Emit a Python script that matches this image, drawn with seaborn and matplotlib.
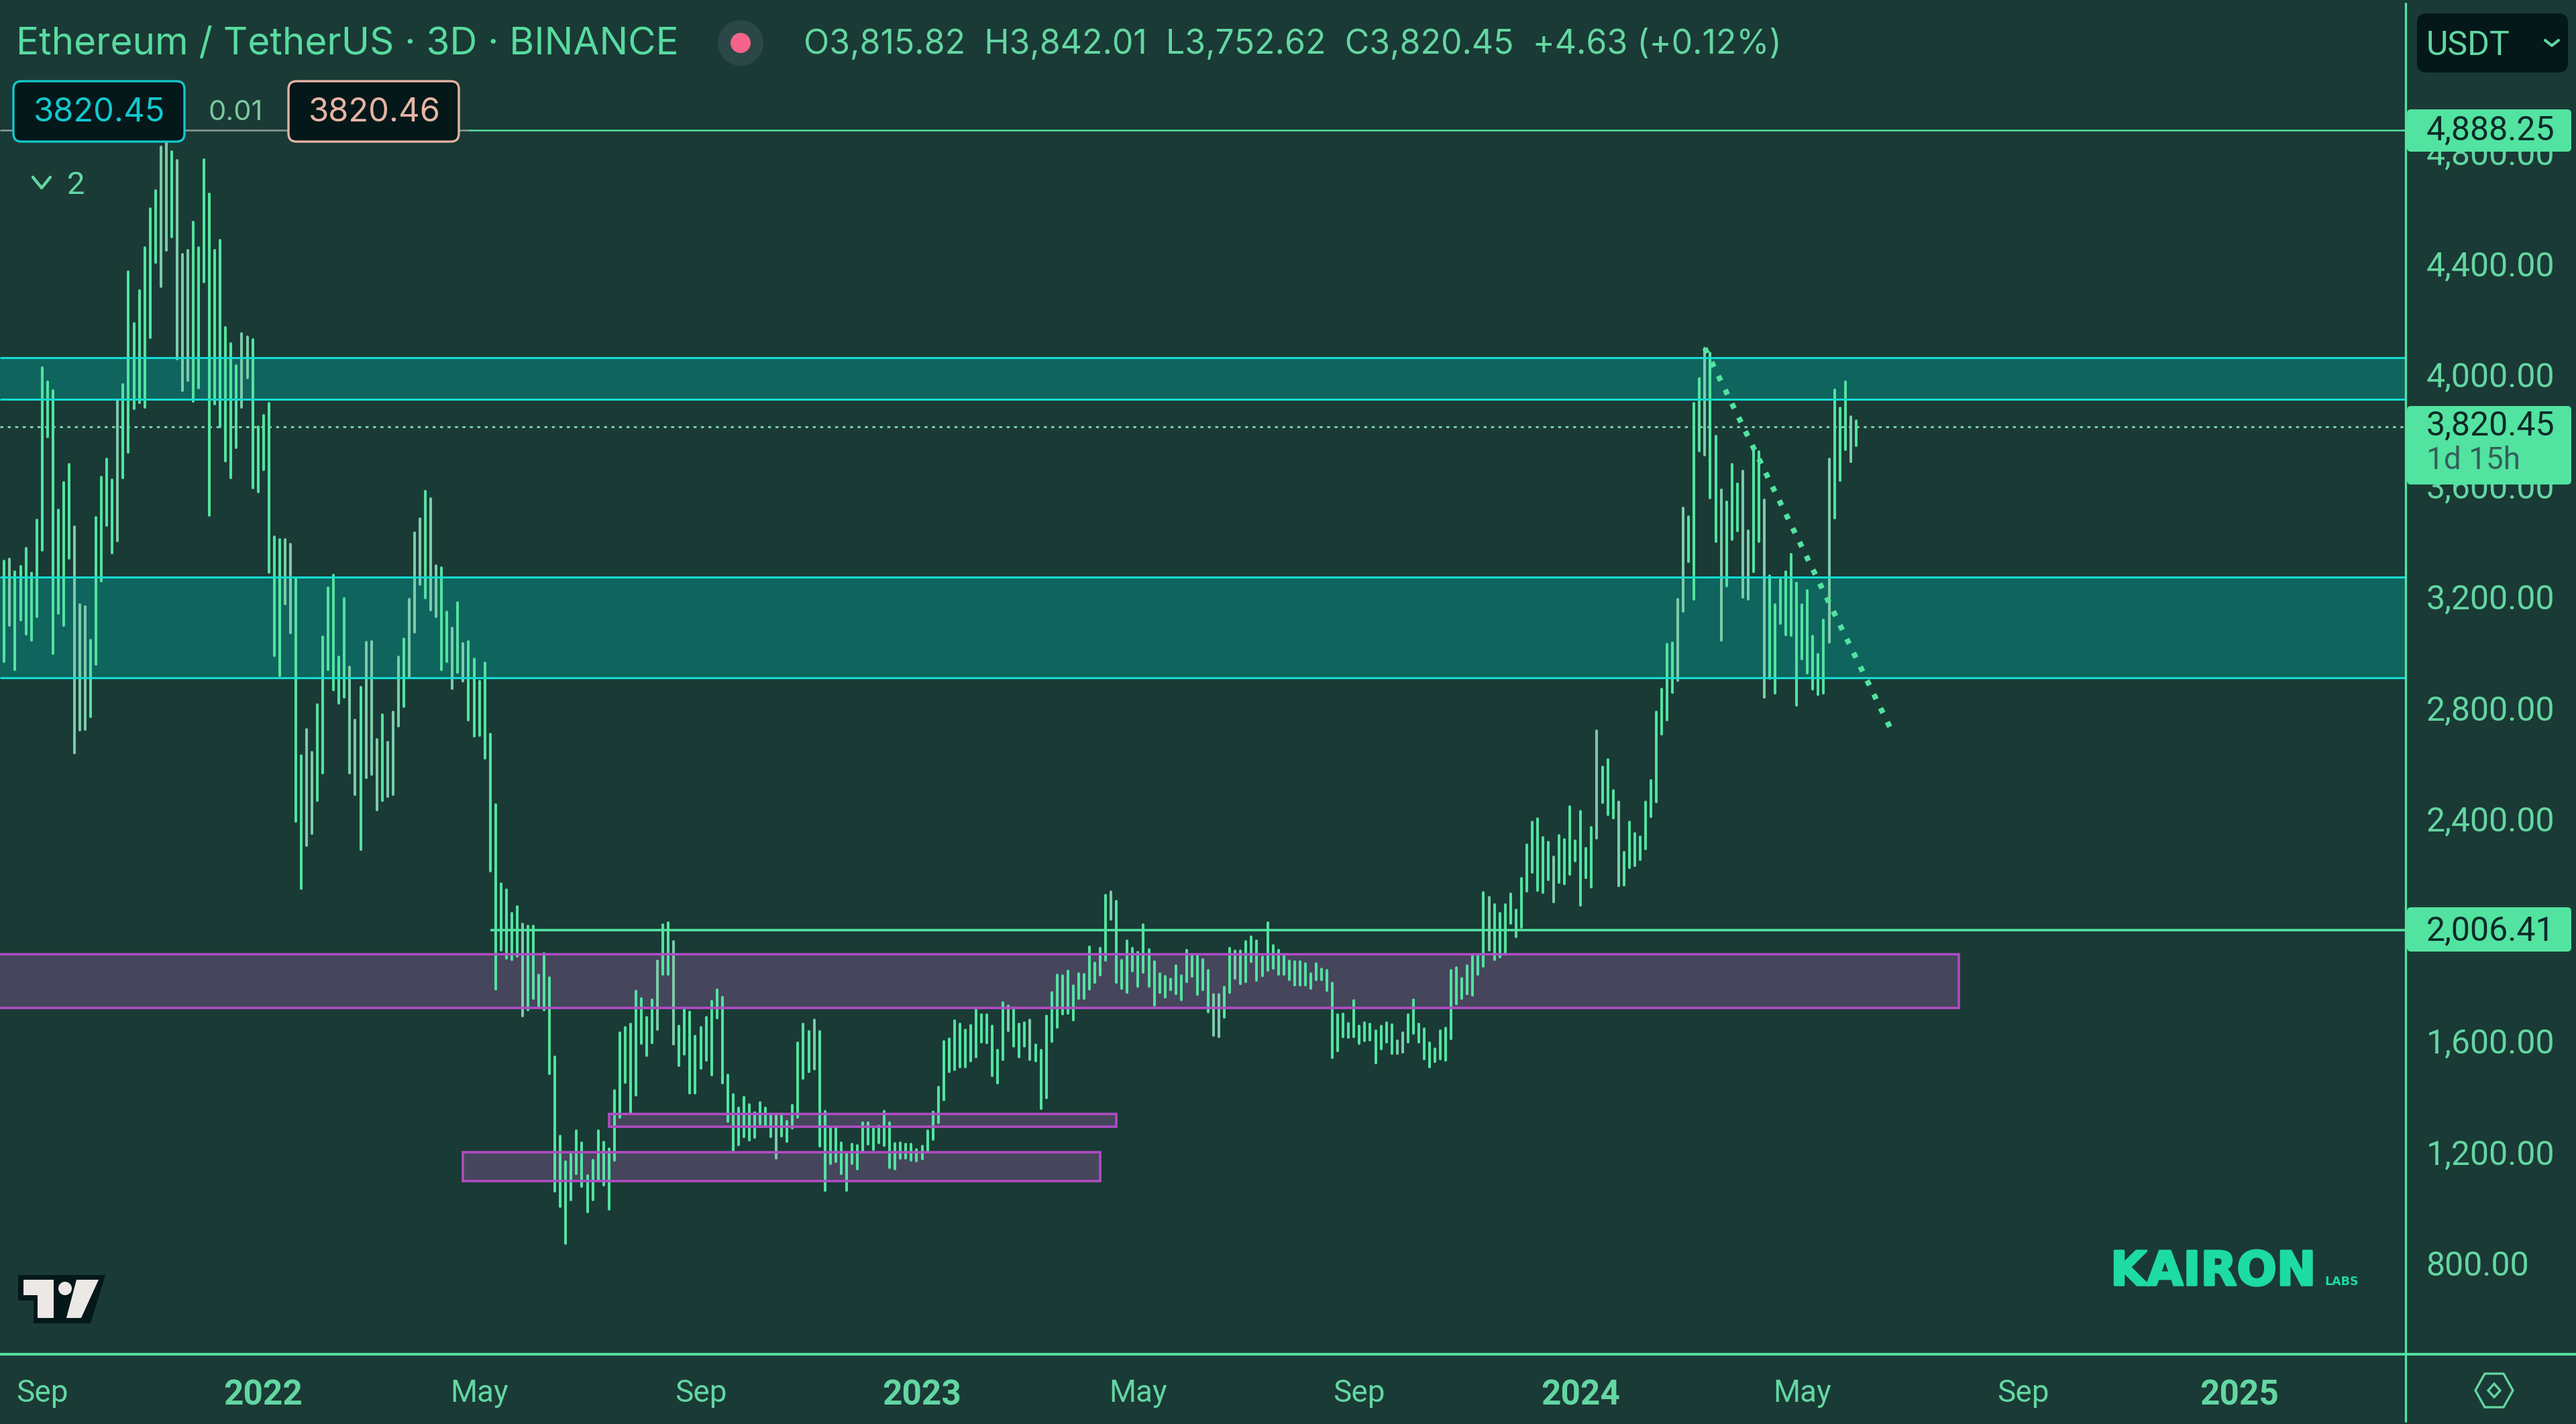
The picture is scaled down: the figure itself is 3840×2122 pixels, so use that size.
import pandas as pd
import matplotlib
matplotlib.use("Agg")
import matplotlib.pyplot as plt
import seaborn as sns
from matplotlib.patches import Rectangle, FancyBboxPatch, Polygon, Circle
from matplotlib.transforms import ScaledTranslation
import matplotlib.patheffects as pe

# 3D ETH/USDT bars, high and low of every bar
bar_high = [
    3337, 3344, 3297, 3317, 3383, 3292, 3484, 4032, 3982, 3951, 3520, 3620, 3685, 3461, 3180, 3172, 3051, 3493, 3639, 3703,
    3630, 3917, 3973, 4379, 4192, 4311, 4466, 4605, 4670, 4828, 4845, 4812, 4780, 4440, 4456, 4557, 4466, 4783, 4659, 4456,
    4492, 4178, 4119, 4039, 4156, 4143, 4133, 3820, 3860, 3905, 3423, 3415, 3415, 3396, 3277, 2635, 2729, 2648, 2819, 3064,
    3239, 3286, 2991, 3202, 2954, 2765, 2883, 3043, 3047, 2693, 2784, 2684, 2794, 2991, 3056, 3198, 3437, 3490, 3588, 3561,
    3320, 3312, 3153, 3094, 3186, 3040, 3047, 2984, 2903, 2970, 2712, 2460, 2175, 2152, 2069, 2093, 2029, 2021, 2021, 1846,
    1923, 1837, 1550, 1266, 1174, 1199, 1284, 1242, 1124, 1179, 1284, 1244, 1219, 1429, 1638, 1657, 1670, 1788, 1760, 1692,
    1755, 1896, 2026, 2033, 1966, 1662, 1728, 1713, 1625, 1657, 1692, 1752, 1792, 1765, 1486, 1416, 1366, 1406, 1379, 1349,
    1386, 1366, 1344, 1346, 1346, 1319, 1377, 1602, 1670, 1643, 1683, 1643, 1354, 1296, 1296, 1241, 1199, 1236, 1231, 1314,
    1314, 1292, 1302, 1356, 1314, 1239, 1242, 1237, 1236, 1216, 1229, 1284, 1352, 1442, 1605, 1615, 1682, 1670, 1647, 1665,
    1720, 1702, 1702, 1662, 1575, 1747, 1735, 1720, 1670, 1675, 1683, 1593, 1575, 1697, 1783, 1846, 1843, 1859, 1807, 1851,
    1848, 1948, 1889, 1943, 2133, 2146, 2111, 1898, 1969, 1943, 1928, 2027, 1938, 1894, 1851, 1841, 1831, 1880, 1844, 1934,
    1918, 1919, 1902, 1862, 1775, 1775, 1803, 1942, 1932, 1932, 1966, 1984, 1968, 1910, 2035, 1952, 1934, 1912, 1896, 1894,
    1894, 1886, 1851, 1886, 1867, 1862, 1817, 1703, 1706, 1672, 1753, 1662, 1675, 1668, 1644, 1662, 1675, 1667, 1608, 1638,
    1702, 1757, 1668, 1652, 1602, 1580, 1646, 1654, 1862, 1871, 1833, 1879, 1919, 1919, 2143, 2125, 2099, 2069, 2099, 2138,
    2079, 2193, 2314, 2397, 2408, 2340, 2325, 2270, 2348, 2334, 2451, 2328, 2436, 2302, 2377, 2724, 2595, 2621, 2510, 2470,
    2287, 2396, 2356, 2343, 2470, 2547, 2794, 2875, 3037, 3042, 3199, 3527, 3496, 3905, 3995, 4103, 4085, 3787, 3592, 3549,
    3684, 3615, 3661, 3445, 3738, 3730, 3556, 3284, 3179, 3268, 3299, 3361, 3257, 3179, 3230, 3065, 3001, 3125, 3703, 3954,
    3888, 3982, 3857, 3842,
]
bar_low = [
    2975, 3105, 2945, 3123, 3072, 3051, 3137, 3376, 3784, 3002, 3148, 3105, 3347, 2646, 2727, 2731, 2777, 2964, 3264, 3464,
    3366, 3409, 3636, 3728, 3885, 3906, 3890, 4141, 4413, 4324, 4455, 4505, 4063, 3951, 3987, 3912, 3960, 4343, 3502, 3901,
    3820, 3696, 3636, 3744, 3890, 3996, 3601, 3585, 3666, 3296, 2997, 2924, 3182, 3078, 2398, 2157, 2312, 2355, 2474, 2574,
    2945, 2873, 2824, 2846, 2574, 2495, 2298, 2555, 2567, 2441, 2474, 2488, 2495, 2741, 2813, 2916, 3081, 3253, 3204, 3161,
    3137, 2945, 2973, 2878, 2936, 2905, 2764, 2706, 2709, 2627, 2220, 1795, 1936, 1906, 1901, 1914, 1698, 1720, 1760, 1730,
    1720, 1489, 1068, 1011, 878, 1036, 1129, 1083, 993, 1035, 1105, 1088, 1001, 1179, 1334, 1459, 1349, 1414, 1600, 1555,
    1602, 1650, 1848, 1848, 1597, 1520, 1560, 1419, 1419, 1510, 1538, 1486, 1690, 1457, 1319, 1214, 1234, 1264, 1252, 1261,
    1309, 1304, 1264, 1186, 1266, 1246, 1294, 1334, 1474, 1497, 1507, 1229, 1070, 1166, 1174, 1129, 1070, 1166, 1147, 1209,
    1236, 1216, 1242, 1232, 1151, 1147, 1186, 1186, 1179, 1177, 1184, 1209, 1254, 1314, 1396, 1497, 1505, 1515, 1515, 1535,
    1550, 1603, 1602, 1484, 1456, 1540, 1645, 1590, 1550, 1590, 1540, 1535, 1364, 1404, 1605, 1658, 1705, 1708, 1683, 1760,
    1760, 1795, 1818, 1846, 1898, 2046, 1818, 1798, 1782, 1861, 1805, 1856, 1805, 1737, 1783, 1766, 1793, 1777, 1757, 1821,
    1840, 1775, 1793, 1712, 1628, 1624, 1692, 1783, 1833, 1813, 1821, 1894, 1825, 1844, 1862, 1870, 1849, 1849, 1829, 1809,
    1809, 1809, 1797, 1828, 1829, 1791, 1547, 1573, 1624, 1621, 1624, 1598, 1608, 1612, 1530, 1580, 1604, 1563, 1563, 1567,
    1604, 1634, 1604, 1543, 1515, 1534, 1543, 1539, 1616, 1742, 1761, 1777, 1774, 1847, 1878, 1934, 1902, 1910, 1922, 2032,
    1984, 2016, 2147, 2216, 2151, 2143, 2189, 2109, 2179, 2174, 2208, 2256, 2097, 2197, 2162, 2339, 2467, 2424, 2410, 2166,
    2169, 2231, 2239, 2262, 2300, 2416, 2470, 2713, 2763, 2864, 2906, 3156, 3334, 3199, 3733, 3718, 3564, 3407, 3052, 3248,
    3414, 3445, 3207, 3199, 3299, 3407, 2847, 2914, 2860, 3111, 3071, 3068, 2817, 2983, 2932, 2875, 2855, 2860, 3045, 3492,
    3626, 3738, 3695, 3752,
]
# bars that are drawn in the paler green
pale_bars = [1, 13, 14, 15, 21, 29, 30, 32, 33, 34, 44, 45, 52, 53, 56, 57, 64, 65, 67, 68, 69, 71, 72, 73, 75, 76, 77, 79, 80,
             83, 85, 96, 121, 124, 143, 150, 186, 190, 205, 224, 225, 228, 258, 259, 275, 287, 295, 299, 310, 311, 315, 318,
             322, 323, 326, 338, 342]

tick_bars = [7, 48, 88, 129, 170, 210, 251, 292, 333, 374, 414]
tick_names = ["Sep", "2022", "May", "Sep", "2023", "May", "Sep", "2024", "May", "Sep", "2025"]
# 2,000.00 sits fully under the 2,006.41 price box in the reference
price_ticks = [800, 1200, 1600, 2400, 2800, 3200, 3600, 4000, 4400, 4800]

last_price = 3820.45
top_level = 4888.25
mid_level = 2006.41
teal_zones = [(3919, 4070), (2916, 3279)]
purple_zones = [(1728, 1921, -1, 362), (1299, 1344, 112, 206), (1104, 1207, 85, 203)]
trend_bars = [315, 349.7]
trend_prices = [4103, 2721]

BG = "#1a3a35"
GREEN = "#52e3a0"
PALE = "#7ccbaa"
LABEL = "#63d6a2"
CYAN = "#14dcd2"
TEAL = "#10645e"
PURPLE = "#b04cc4"
PURPLE_FILL = "#45465c"
DARK = "#04181a"

W, H = 3840, 2122

sns.set_theme(style="dark", rc={"axes.facecolor": BG, "figure.facecolor": BG})
plt.rcParams["font.family"] = "Roboto"

fig = plt.figure(figsize=(W / 200, H / 200), dpi=200)
ax = fig.add_axes([0, (H - 2018) / H, 3586 / W, 2018 / H])
x_left, x_right = -0.795, 444.8

# long table, two rows per bar, so seaborn draws one vertical line per bar
rows = []
for i, (hi, lo) in enumerate(zip(bar_high, bar_low)):
    tone = "pale" if i in pale_bars else "bright"
    rows.append({"bar": i, "price": lo, "tone": tone})
    rows.append({"bar": i, "price": hi, "tone": tone})
df = pd.DataFrame(rows)

# zones under the bars, their outlines over the bars
for lo, hi in teal_zones:
    ax.add_patch(Rectangle((x_left, lo), x_right - x_left, hi - lo, fc=TEAL, ec="none", zorder=1))
    ax.hlines([lo, hi], x_left, x_right, color=CYAN, lw=1.1, zorder=3)
for lo, hi, b0, b1 in purple_zones:
    ax.add_patch(Rectangle((b0, lo), b1 - b0, hi - lo, fc=PURPLE_FILL, ec="none", zorder=1))
    ax.add_patch(Rectangle((b0, lo), b1 - b0, hi - lo, fc="none", ec=PURPLE, lw=1.3, zorder=3))

sns.lineplot(data=df, x="bar", y="price", units="bar", hue="tone", palette={"bright": GREEN, "pale": PALE},
             estimator=None, sort=False, lw=1.45, legend=False, ax=ax, zorder=2)

ax.hlines(last_price, x_left, x_right, color="#7fd9b3", lw=1.0, linestyles=(0, (1.6, 2.4)), zorder=1.5)
ax.hlines(top_level, x_left, 86, color="#8a9a94", lw=0.9, zorder=1.5)
ax.hlines(top_level, 86, x_right, color=GREEN, lw=0.9, zorder=1.5)
ax.hlines(mid_level, 90, x_right, color=GREEN, lw=1.3, zorder=3)
ax.plot(trend_bars, trend_prices, color=GREEN, lw=2.9, linestyle=(0, (1, 1.85)), zorder=4)

ax.set_xlim(x_left, x_right)
ax.set_ylim(480, 5357)
ax.set_xlabel("")
ax.set_ylabel("")
ax.grid(False)
sns.despine(ax=ax, left=True, bottom=True, top=True, right=True)

ax.yaxis.tick_right()
ax.set_yticks(price_ticks)
ax.set_yticklabels([f"{p:,.2f}" for p in price_ticks], fontsize=18, color=LABEL)
ax.tick_params(axis="y", length=0, pad=11)
shift_up = ScaledTranslation(0, 4 / 200, fig.dpi_scale_trans)
for lab in ax.get_yticklabels():
    lab.set_transform(lab.get_transform() + shift_up)
ax.set_xticks(tick_bars)
ax.set_xticklabels(tick_names, fontsize=16.5, color=LABEL)
ax.tick_params(axis="x", length=0, pad=13)
for lab in ax.get_xticklabels():
    if lab.get_text().startswith("20"):
        lab.set_fontweight("bold")
        lab.set_fontsize(18.5)

# overlay in image pixels for the chart furniture
ov = fig.add_axes([0, 0, 1, 1], facecolor="none")
ov.set_xlim(0, W)
ov.set_ylim(H, 0)
ov.axis("off")

ov.plot([3586, 3586], [5, 2118], color=GREEN, lw=1.2)
ov.plot([0, W], [2018, 2018], color=GREEN, lw=1.4)


def box(x0, y0, x1, y1, fc, ec="none", lw=1.0, r=10):
    ov.add_patch(FancyBboxPatch((x0, y0), x1 - x0, y1 - y0, boxstyle=f"round,pad=0,rounding_size={r}",
                                fc=fc, ec=ec, lw=lw, zorder=5))


def label(x, y, s, color=LABEL, size=18, ha="left", **kw):
    ov.text(x, y, s, color=color, fontsize=size, ha=ha, va="center", zorder=6, **kw)


def chevron(x, y, w, h, color, lw):
    ov.plot([x - w, x, x + w], [y - h, y + h, y - h], color=color, lw=lw, zorder=6)


# header
label(24, 66, "Ethereum / TetherUS · 3D · BINANCE", color="#58dba0", size=20.4, family="Inter")
ov.add_patch(Circle((1104, 64), 34, fc="#2b4747", ec="none", zorder=5))
ov.add_patch(Circle((1104, 64), 15, fc="#f5638a", ec="none", zorder=6))
label(1198, 66, "O3,815.82  H3,842.01  L3,752.62  C3,820.45  +4.63 (+0.12%)", size=18, family="Inter")

# bid / ask badges
box(20, 121, 275, 211, DARK, ec="#13c8cc", lw=1.2, r=12)
label(148, 168, "3820.45", color="#13c8cc", size=17.6, ha="center", family="Inter")
label(351, 168, "0.01", color="#7cc8a0", size=15, ha="center", family="Inter")
box(430, 121, 684, 211, DARK, ec="#e6b4a4", lw=1.2, r=12)
label(558, 168, "3820.46", color="#e6b4a4", size=17.6, ha="center", family="Inter")

chevron(62, 272, 13, 8, "#63d6a2", 1.6)
label(100, 276, "2", size=17)

# right side
box(3603, 20, 3828, 108, DARK, r=14)
label(3617, 68, "USDT", size=18)
chevron(3804, 64, 10, 4, LABEL, 1.5)

box(3588, 163, 3833, 226, GREEN, r=6)
label(3617, 194, "4,888.25", color="#0c2a28")
box(3588, 605, 3833, 722, GREEN, r=6)
label(3617, 634, "3,820.45", color="#0c2a28")
label(3617, 686, "1d 15h", color="#34605a", size=16.5)
box(3588, 1352, 3833, 1418, GREEN, r=6)
label(3617, 1387, "2,006.41", color="#0c2a28")

# tradingview mark
shadow = "#04181a"
ov.add_patch(Polygon([(27, 1900), (85, 1900), (85, 1972), (50, 1972), (50, 1938), (27, 1938)], fc=shadow, ec="none", zorder=5))
ov.add_patch(Polygon([(85, 1900), (157, 1900), (135, 1972), (85, 1972)], fc=shadow, ec="none", zorder=5))
ov.add_patch(Polygon([(35, 1907), (80, 1907), (80, 1964), (56, 1964), (56, 1930), (35, 1930)], fc="#ebe8e6", ec="none", zorder=6))
ov.add_patch(Polygon([(114, 1907), (147, 1907), (121, 1964), (99, 1964)], fc="#ebe8e6", ec="none", zorder=6))
ov.add_patch(Circle((97, 1920), 10, fc="#ebe8e6", ec="none", zorder=6))

# kairon mark
ov.text(3146, 1915, "KAIRON", color="#1ddba3", fontsize=25.2, family="DejaVu Sans", fontweight="bold",
        ha="left", va="baseline", zorder=6, path_effects=[pe.withStroke(linewidth=1.2, foreground="#1ddba3")])
ov.text(3465, 1915, "LABS", color="#1ddba3", fontsize=6.3, family="DejaVu Sans", fontweight="bold",
        ha="left", va="baseline", zorder=6)

# settings hexagon
cx, cy = 3718, 2072
ov.add_patch(Polygon([(cx - 28, cy), (cx - 14, cy - 25), (cx + 14, cy - 25), (cx + 28, cy), (cx + 14, cy + 25), (cx - 14, cy + 25)],
                     fc="none", ec=LABEL, lw=1.2, zorder=6))
ov.add_patch(Polygon([(cx - 9, cy), (cx, cy - 10), (cx + 9, cy), (cx, cy + 10)], fc="none", ec=LABEL, lw=1.2, zorder=6))

fig.savefig("out.png", dpi=200, facecolor=BG)
plt.close(fig)
